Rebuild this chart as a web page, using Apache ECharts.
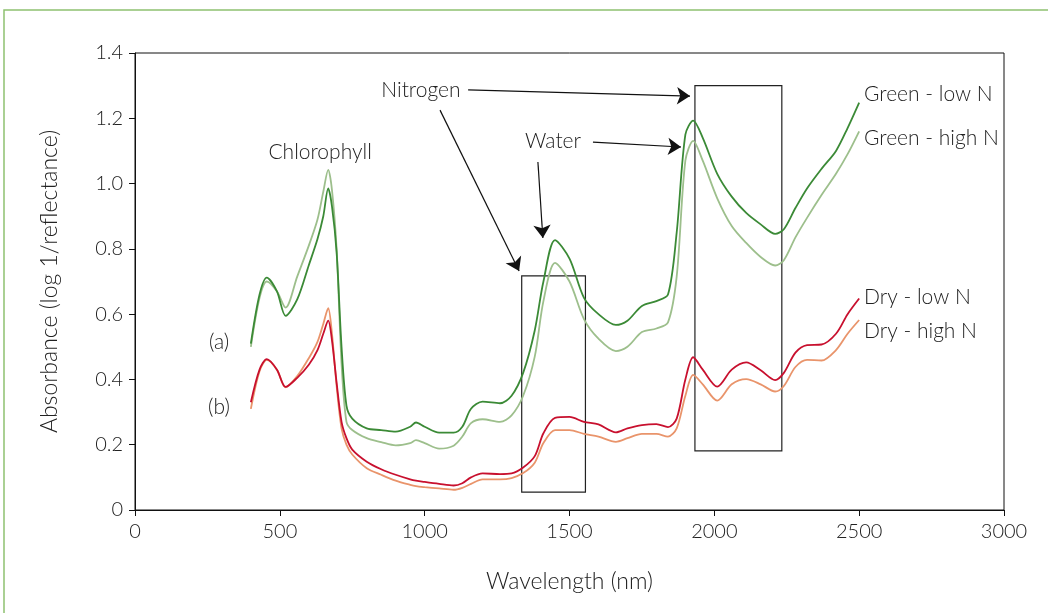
<!DOCTYPE html>
<html>
<head>
<meta charset="utf-8">
<script src="https://cdn.jsdelivr.net/npm/echarts@6/dist/echarts.min.js"></script>
<style>html,body{margin:0;padding:0;background:#fff}#c{width:1048px;height:613px}</style>
</head>
<body>
<div id="c"></div>
<script>
// Wavelength grid (nm)
const wavelength = [400,430,455,490,520,560,600,630,650,667,680,696,713,730,750,800,850,900,950,970,1000,1050,1100,1130,1160,1200,1260,1300,1340,1380,1410,1450,1500,1550,1600,1660,1700,1750,1800,1840,1870,1900,1927,1960,2010,2060,2110,2160,2210,2240,2280,2320,2370,2420,2460,2500];

const greenLowN = [0.51,0.66,0.712,0.67,0.595,0.645,0.75,0.83,0.90,0.985,0.93,0.79,0.50,0.32,0.28,0.25,0.245,0.24,0.255,0.268,0.255,0.237,0.237,0.255,0.31,0.332,0.327,0.35,0.42,0.55,0.70,0.827,0.77,0.65,0.60,0.567,0.58,0.625,0.64,0.66,0.85,1.15,1.193,1.14,1.03,0.96,0.91,0.875,0.846,0.86,0.925,0.985,1.045,1.10,1.17,1.248];

const greenHighN = [0.50,0.65,0.70,0.67,0.62,0.715,0.81,0.89,0.975,1.042,0.98,0.80,0.45,0.27,0.245,0.22,0.208,0.198,0.205,0.214,0.205,0.188,0.197,0.225,0.266,0.278,0.27,0.29,0.35,0.47,0.64,0.757,0.70,0.585,0.525,0.487,0.50,0.545,0.556,0.575,0.715,1.07,1.131,1.07,0.955,0.87,0.818,0.775,0.749,0.765,0.835,0.895,0.965,1.03,1.09,1.16];

const dryLowN = [0.33,0.43,0.462,0.43,0.377,0.405,0.445,0.49,0.54,0.58,0.52,0.39,0.27,0.22,0.185,0.148,0.125,0.108,0.094,0.09,0.086,0.08,0.075,0.082,0.10,0.112,0.11,0.112,0.13,0.165,0.235,0.282,0.285,0.27,0.262,0.238,0.25,0.26,0.263,0.254,0.28,0.40,0.468,0.43,0.378,0.43,0.452,0.428,0.398,0.42,0.482,0.505,0.507,0.54,0.60,0.648];

const dryHighN = [0.31,0.425,0.46,0.43,0.376,0.41,0.465,0.515,0.57,0.618,0.54,0.38,0.25,0.20,0.17,0.128,0.108,0.09,0.077,0.073,0.07,0.066,0.062,0.068,0.08,0.094,0.094,0.098,0.113,0.145,0.205,0.245,0.245,0.233,0.225,0.209,0.22,0.233,0.233,0.225,0.25,0.35,0.414,0.385,0.335,0.385,0.401,0.385,0.363,0.38,0.438,0.46,0.458,0.49,0.54,0.582];

const seriesNames = ['Green - low N','Green - high N','Dry - low N','Dry - high N'];
const seriesColors = ['#3b8a36','#9dbf8c','#c8102e','#e9946b'];

// Annotation texts and anchors (data coordinates)
const textLabels = [
  {name:'Chlorophyll', at:[639,1.097], align:'center'},
  {name:'Nitrogen', at:[987,1.287], align:'center'},
  {name:'Water', at:[1443,1.13], align:'center'},
  {name:'(a)', at:[290,0.515], align:'center'},
  {name:'(b)', at:[290,0.316], align:'center'},
  {name:'Green - low N', at:[2517,1.274], align:'left'},
  {name:'Green - high N', at:[2517,1.140], align:'left'},
  {name:'Dry - low N', at:[2517,0.653], align:'left'},
  {name:'Dry - high N', at:[2517,0.548], align:'left'}
];
const arrows = [
  [[1150,1.287],[1916,1.268]],
  [[1053,1.225],[1326,0.732]],
  [[1581,1.127],[1885,1.112]],
  [[1391,1.066],[1408,0.833]]
];
const boxes = [
  [[1335,0.717],[1555,0.055]],
  [[1933,1.300],[2233,0.181]]
];

const FONT = 'Lato';
const WEIGHT = 300;
const chart = echarts.init(document.getElementById('c'), null, {renderer:'canvas'});

const series = [greenLowN, greenHighN, dryLowN, dryHighN].map((vals, i) => ({
  name: seriesNames[i],
  type: 'line',
  data: wavelength.map((w, j) => [w, vals[j]]),
  showSymbol: false,
  smooth: 0.3,
  lineStyle: {color: seriesColors[i], width: 1.8},
  itemStyle: {color: seriesColors[i]},
  z: 3 + (3 - i)
}));

series.push({
  type: 'line',
  data: [],
  silent: true,
  markArea: {
    silent: true,
    itemStyle: {color: 'rgba(0,0,0,0)', borderColor: '#222', borderWidth: 1.2},
    label: {show: false},
    data: boxes.map(b => [{coord: b[0]}, {coord: b[1]}])
  },
  markLine: {
    silent: true,
    symbol: ['none', 'arrow'],
    symbolSize: 13,
    lineStyle: {color: '#111', width: 1.2, type: 'solid'},
    itemStyle: {color: '#111'},
    label: {show: false},
    data: arrows.map(a => [{coord: a[0]}, {coord: a[1]}])
  },
  markPoint: {
    silent: true,
    symbol: 'circle',
    symbolSize: 0,
    data: textLabels.map(t => ({
      name: t.name,
      coord: t.at,
      label: {
        show: true, position: 'inside', formatter: '{b}',
        align: t.align, verticalAlign: 'middle',
        fontFamily: FONT, fontWeight: WEIGHT, fontSize: 21, color: '#222'
      }
    }))
  }
});

chart.setOption({
  animation: false,
  backgroundColor: '#fff',
  graphic: [{
    type: 'rect', silent: true,
    shape: {x: 4, y: 10, width: 1200, height: 800},
    style: {fill: 'none', stroke: '#8fc170', lineWidth: 1.5}
  }],
  grid: {left: 135, right: 44, top: 53, bottom: 103, show: true, borderColor: '#111', borderWidth: 1, backgroundColor: 'transparent'},
  xAxis: {
    type: 'value', min: 0, max: 3000, interval: 500,
    name: 'Wavelength (nm)', nameLocation: 'middle', nameGap: 60,
    nameTextStyle: {fontFamily: FONT, fontWeight: WEIGHT, fontSize: 23, color: '#222'},
    axisLine: {show: true, lineStyle: {color: '#111', width: 1}},
    axisTick: {show: true, inside: false, length: 6, lineStyle: {color: '#111'}},
    axisLabel: {fontFamily: FONT, fontWeight: WEIGHT, fontSize: 20, color: '#222', margin: 12,
      formatter: v => String(v)},
    splitLine: {show: false}
  },
  yAxis: {
    type: 'value', min: 0, max: 1.4, interval: 0.2,
    name: 'Absorbance (log 1/reflectance)', nameLocation: 'middle', nameGap: 74,
    nameTextStyle: {fontFamily: FONT, fontWeight: WEIGHT, fontSize: 23, color: '#222'},
    axisLine: {show: true, lineStyle: {color: '#111', width: 1}},
    axisTick: {show: true, inside: false, length: 6, lineStyle: {color: '#111'}},
    axisLabel: {fontFamily: FONT, fontWeight: WEIGHT, fontSize: 20, color: '#222', margin: 12,
      formatter: v => v === 0 ? '0' : v.toFixed(1)},
    splitLine: {show: false}
  },
  series: series
});
</script>
</body>
</html>
